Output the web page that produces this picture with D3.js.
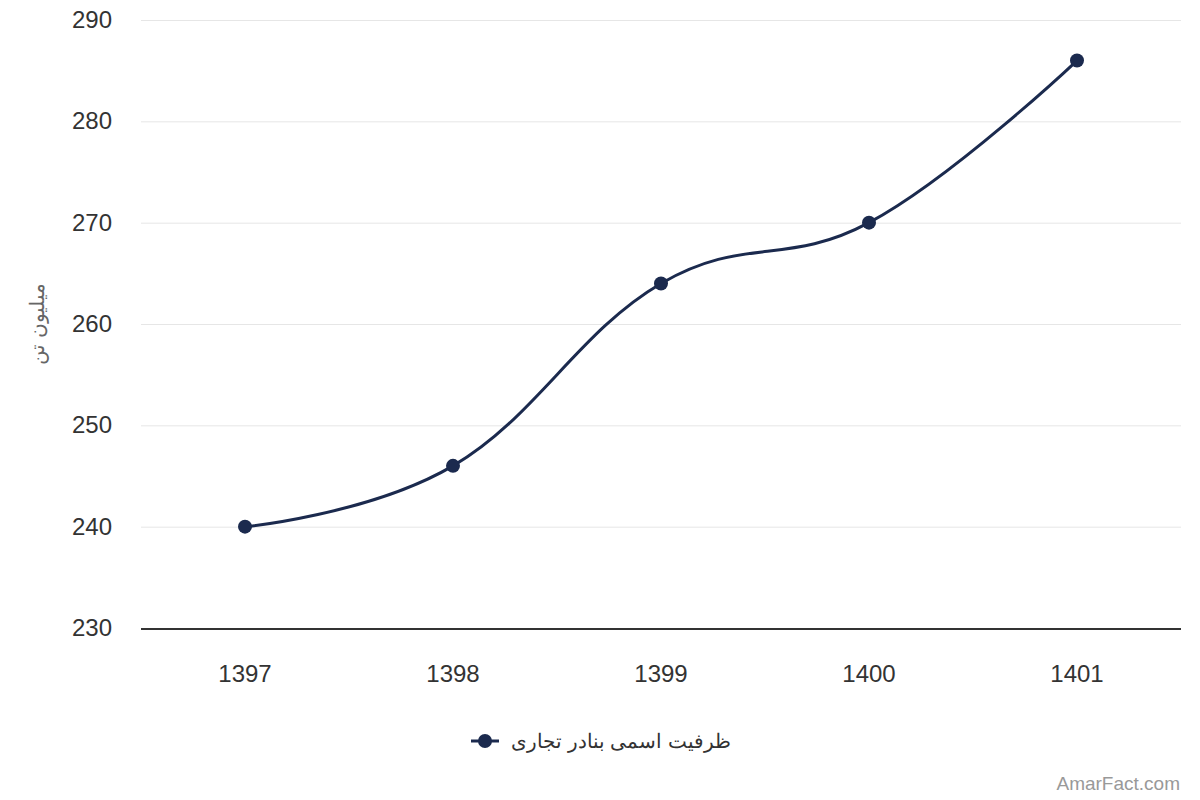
<!DOCTYPE html>
<html>
<head>
<meta charset="utf-8">
<title>ظرفیت اسمی بنادر تجاری</title>
<style>
  body { margin: 0; background: #fff; }
  text { font-family: "Liberation Sans", Arial, Helvetica, sans-serif; }
</style>
</head>
<body>
<script src="https://cdn.jsdelivr.net/npm/d3@7"></script>
<script>
// data
var years = ["1397", "1398", "1399", "1400", "1401"];
var capacity = [240, 246, 264, 270, 286];
var yTicks = [230, 240, 250, 260, 270, 280, 290];
var seriesName = "ظرفیت اسمی بنادر تجاری";
var yTitle = "میلیون تن";

var width = 1200, height = 800;
var plotLeft = 141, plotRight = 1181, plotTop = 20, plotBottom = 628;
var lineColor = "#1b2a4e";

var svg = d3.select("body").append("svg")
    .attr("width", width)
    .attr("height", height);

var x = d3.scaleBand().domain(years).range([plotLeft, plotRight]);
var y = d3.scaleLinear().domain([230, 290]).range([plotBottom, plotTop]);

// grid
svg.selectAll(".grid")
    .data(yTicks.slice(1))
    .enter()
    .append("line")
    .attr("x1", plotLeft)
    .attr("x2", plotRight)
    .attr("y1", function(d) { return y(d) + 0.5; })
    .attr("y2", function(d) { return y(d) + 0.5; })
    .attr("stroke", "#e6e6e6")
    .attr("stroke-width", 1);

// y labels
svg.selectAll(".ylab")
    .data(yTicks)
    .enter()
    .append("text")
    .attr("x", 112)
    .attr("y", function(d) { return y(d) + 8; })
    .attr("text-anchor", "end")
    .attr("font-size", 24)
    .attr("fill", "#333")
    .text(function(d) { return d; });

// x axis line
svg.append("line")
    .attr("x1", plotLeft)
    .attr("x2", plotRight)
    .attr("y1", plotBottom + 1)
    .attr("y2", plotBottom + 1)
    .attr("stroke", "#333")
    .attr("stroke-width", 2);

// x labels
svg.selectAll(".xlab")
    .data(years)
    .enter()
    .append("text")
    .attr("x", function(d) { return x(d) + x.bandwidth() / 2; })
    .attr("y", 682)
    .attr("text-anchor", "middle")
    .attr("font-size", 24)
    .attr("fill", "#333")
    .text(function(d) { return d; });

// y title
svg.append("text")
    .attr("transform", "translate(44," + y(260) + ") rotate(-90)")
    .attr("text-anchor", "middle")
    .attr("font-size", 20)
    .attr("fill", "#666")
    .text(yTitle);

// spline path (highcharts-style smoothing)
var pts = years.map(function(d, i) {
    return { x: x(d) + x.bandwidth() / 2, y: y(capacity[i]) };
});
function splinePath(p) {
    var sm = 1.5, den = sm + 1;
    var path = d3.path();
    path.moveTo(p[0].x, p[0].y);
    for (var i = 1; i < p.length; i++) {
        var cur = p[i], last = p[i - 1], next = p[i + 1];
        var lcx = cur.x, lcy = cur.y;
        if (next) {
            lcx = (sm * cur.x + last.x) / den;
            lcy = (sm * cur.y + last.y) / den;
            var rcx = (sm * cur.x + next.x) / den;
            var rcy = (sm * cur.y + next.y) / den;
            var corr = (rcy - lcy) * (rcx - cur.x) / (rcx - lcx) + cur.y - rcy;
            lcy += corr; rcy += corr;
            if (lcy > last.y && lcy > cur.y) { lcy = Math.max(last.y, cur.y); rcy = 2 * cur.y - lcy; }
            else if (lcy < last.y && lcy < cur.y) { lcy = Math.min(last.y, cur.y); rcy = 2 * cur.y - lcy; }
            if (rcy > next.y && rcy > cur.y) { rcy = Math.max(next.y, cur.y); lcy = 2 * cur.y - rcy; }
            else if (rcy < next.y && rcy < cur.y) { rcy = Math.min(next.y, cur.y); lcy = 2 * cur.y - rcy; }
            cur.rcx = rcx; cur.rcy = rcy;
        }
        var ax = last.rcx !== undefined ? last.rcx : last.x;
        var ay = last.rcy !== undefined ? last.rcy : last.y;
        path.bezierCurveTo(ax, ay, lcx, lcy, cur.x, cur.y);
    }
    return path.toString();
}

svg.append("path")
    .attr("d", splinePath(pts))
    .attr("fill", "none")
    .attr("stroke", lineColor)
    .attr("stroke-width", 3)
    .attr("stroke-linejoin", "round")
    .attr("stroke-linecap", "round");

svg.selectAll(".dot")
    .data(capacity)
    .enter()
    .append("circle")
    .attr("cx", function(d, i) { return x(years[i]) + x.bandwidth() / 2; })
    .attr("cy", function(d) { return y(d); })
    .attr("r", 7)
    .attr("fill", lineColor);

// legend
var lg = svg.append("g");
lg.append("line")
    .attr("x1", 471).attr("x2", 499)
    .attr("y1", 741).attr("y2", 741)
    .attr("stroke", lineColor)
    .attr("stroke-width", 3);
lg.append("circle")
    .attr("cx", 485).attr("cy", 741)
    .attr("r", 7)
    .attr("fill", lineColor);
lg.append("text")
    .attr("x", 731)
    .attr("y", 748)
    .attr("text-anchor", "end")
    .attr("font-size", 20)
    .attr("fill", "#333")
    .text(seriesName);

// credits
svg.append("text")
    .attr("x", 1180)
    .attr("y", 790)
    .attr("text-anchor", "end")
    .attr("font-size", 19)
    .attr("fill", "#999")
    .text("AmarFact.com");
</script>
</body>
</html>
